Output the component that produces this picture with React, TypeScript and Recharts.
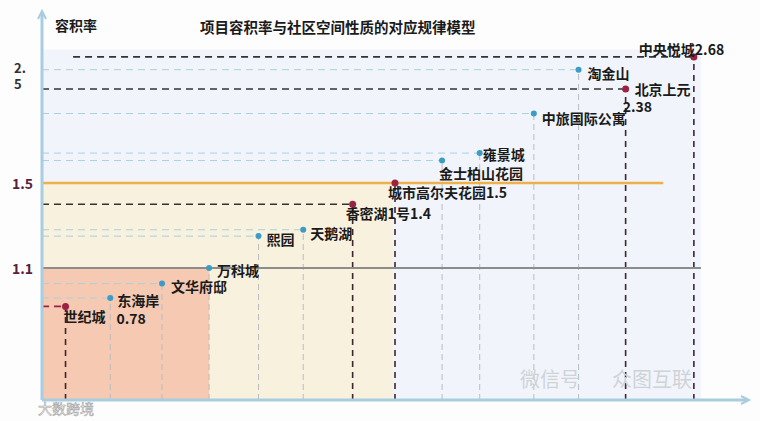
import React from "react";
import {
  ComposedChart,
  Scatter,
  XAxis,
  YAxis,
  ReferenceArea,
  ReferenceLine,
  ReferenceDot,
} from "recharts";

// projects in the order they sit along the horizontal axis
const projects = [
  "世纪城",
  "东海岸",
  "文华府邸",
  "万科城",
  "熙园",
  "天鹅湖",
  "香密湖1号",
  "城市高尔夫花园",
  "金士柏山花园",
  "雍景城",
  "中旅国际公寓",
  "淘金山",
  "北京上元",
  "中央悦城",
];
const slots = [0.5, 1.45, 2.55, 3.55, 4.6, 5.55, 6.6, 7.5, 8.5, 9.3, 10.45, 11.4, 12.4, 13.85];
const plotRatio = [0.78, 0.85, 0.97, 1.1, 1.25, 1.28, 1.4, 1.5, 1.71, 1.78, 2.15, 2.56, 2.38, 2.68];
const marked = [true, false, false, false, false, false, true, true, false, false, false, false, true, true];

const yTicks = [1.1, 1.5, 2.5];
const lowBand = 1.1;
const midBand = 1.5;
const yTop = 3.1;
const xMax = 15;

// the picture's vertical axis is stretched between 1.1 and 1.5
const KNOTS = [0, 1.1, 1.5, 3.1];
const FRACS = [0, 0.3402, 0.5593, 1];

function frac(v: number) {
  let i = 0;
  while (i < KNOTS.length - 2 && v > KNOTS[i + 1]) i++;
  const t = (v - KNOTS[i]) / (KNOTS[i + 1] - KNOTS[i]);
  return FRACS[i] + t * (FRACS[i + 1] - FRACS[i]);
}

function unfrac(f: number) {
  let i = 0;
  while (i < FRACS.length - 2 && f > FRACS[i + 1]) i++;
  const t = (f - FRACS[i]) / (FRACS[i + 1] - FRACS[i]);
  return KNOTS[i] + t * (KNOTS[i + 1] - KNOTS[i]);
}

function stretchScale(d: number[] = [0, 1], r: number[] = [0, 1]): any {
  let dom = d.slice();
  let rng = r.slice();
  const s: any = (v: number) => rng[0] + (rng[1] - rng[0]) * frac(v);
  s.domain = function (x?: number[]) {
    if (x === undefined) return dom.slice();
    dom = x.slice();
    return s;
  };
  s.range = function (x?: number[]) {
    if (x === undefined) return rng.slice();
    rng = x.slice();
    return s;
  };
  s.invert = (px: number) => unfrac((px - rng[0]) / (rng[1] - rng[0]));
  s.ticks = () => KNOTS.slice();
  s.tickFormat = () => (v: number) => String(v);
  s.nice = () => s;
  s.clamp = () => s;
  s.copy = () => stretchScale(dom, rng);
  return s;
}

const data = projects.map((name, i) => ({
  name,
  x: slots[i],
  y: plotRatio[i],
  marked: marked[i],
}));
const bluePts = data.filter((d) => !d.marked);
const redPts = data.filter((d) => d.marked);

// label placement relative to each dot
const labelPos: Record<string, { dx: number; dy: number; vdx?: number; vdy?: number }> = {
  世纪城: { dx: -2, dy: 10, vdx: 51, vdy: 12 },
  东海岸: { dx: 7, dy: 2 },
  文华府邸: { dx: 9, dy: 2 },
  万科城: { dx: 8, dy: 2 },
  熙园: { dx: 8, dy: 3 },
  天鹅湖: { dx: 7, dy: 3 },
  香密湖1号: { dx: -7, dy: 9 },
  城市高尔夫花园: { dx: -7, dy: 9 },
  金士柏山花园: { dx: -3, dy: 12 },
  雍景城: { dx: 3, dy: 1 },
  中旅国际公寓: { dx: 8, dy: 4 },
  淘金山: { dx: 9, dy: 3 },
  北京上元: { dx: 9, dy: 0, vdx: -3, vdy: 17 },
  中央悦城: { dx: -55, dy: -8 },
};

const FONT = '"Noto Sans CJK SC", "Noto Sans", sans-serif';
const AXIS = "#a9cde0";
const BLUE = "#3b9cc6";
const RED = "#9c2244";

function PointMark({ cx, cy, payload, fill }: any) {
  const p = labelPos[payload.name] || { dx: 8, dy: 2 };
  const txt = { fontFamily: FONT, fontSize: 14, fontWeight: 700, fill: "#1a1a1a" };
  const split = payload.marked && p.vdx !== undefined;
  return (
    <g>
      <circle cx={cx} cy={cy} r={payload.marked ? 3.5 : 3} fill={fill} />
      <text x={cx + p.dx} y={cy + p.dy} dominantBaseline="central" {...txt}>
        {payload.name}
        {payload.marked && !split ? payload.y : ""}
      </text>
      {split && (
        <text x={cx + p.vdx!} y={cy + p.vdy!} dominantBaseline="central" {...txt}>
          {payload.y}
        </text>
      )}
    </g>
  );
}

function YTick({ y, payload }: any) {
  const v = payload.value;
  const style = { fontFamily: FONT, fontSize: 14, fontWeight: 700 };
  if (v === 2.5) {
    return (
      <text x={14} y={y} fill="#333" {...style} fontSize={13}>
        <tspan x={14} dy={-3}>2.</tspan>
        <tspan x={14} dy={16}>5</tspan>
      </text>
    );
  }
  return (
    <text x={33} y={y} textAnchor="end" dominantBaseline="central" fill="#5c1f3c" {...style}>
      {v}
    </text>
  );
}

function UpArrow({ cx, cy }: any) {
  return (
    <polyline
      points={`${cx - 4},${cy + 7} ${cx},${cy - 1} ${cx + 4},${cy + 7}`}
      fill="none"
      stroke={AXIS}
      strokeWidth={2}
    />
  );
}

function RightArrow({ cx, cy }: any) {
  return (
    <polyline
      points={`${cx - 7},${cy - 4} ${cx + 1},${cy} ${cx - 7},${cy + 4}`}
      fill="none"
      stroke={AXIS}
      strokeWidth={2}
    />
  );
}

export default function App() {
  const yScale = stretchScale();
  return (
    <div style={{ position: "absolute", left: 0, top: 0, width: 760, height: 421, background: "#fdfdfe" }}>
      <ComposedChart
        width={760}
        height={421}
        data={data}
        margin={{ top: 12, right: 12, bottom: 0, left: 8 }}
      >
        <XAxis
          type="number"
          dataKey="x"
          domain={[0, xMax]}
          tick={false}
          tickLine={false}
          height={21}
          axisLine={{ stroke: AXIS, strokeWidth: 3 }}
        />
        <YAxis
          type="number"
          dataKey="y"
          domain={[0, yTop]}
          scale={yScale}
          ticks={yTicks}
          tick={<YTick />}
          tickLine={false}
          width={34}
          axisLine={{ stroke: AXIS, strokeWidth: 3 }}
        />

        <ReferenceArea x1={0} x2={14} y1={0} y2={2.75} fill="#f1f5fb" fillOpacity={1} stroke="none" ifOverflow="visible" />
        <ReferenceArea x1={0} x2={7.45} y1={0} y2={midBand} fill="#f8f1dd" fillOpacity={1} stroke="none" ifOverflow="visible" />
        <ReferenceArea x1={0} x2={3.55} y1={0} y2={lowBand} fill="#f5c9b2" fillOpacity={1} stroke="none" ifOverflow="visible" />

        {data.map((d) => (
          <ReferenceLine
            key={"v" + d.name}
            segment={[{ x: d.x, y: 0 }, { x: d.x, y: d.y }]}
            stroke={d.marked ? "#3d2630" : "#b9bcc0"}
            strokeWidth={d.marked ? 1.6 : 1}
            strokeDasharray={d.marked ? "6 5" : "6 4"}
            ifOverflow="visible"
          />
        ))}
        {data.map((d) => (
          <ReferenceLine
            key={"h" + d.name}
            segment={[{ x: d.name === "中央悦城" ? 0.66 : 0, y: d.y }, { x: d.x, y: d.y }]}
            stroke={d.marked ? (d.name === "世纪城" ? RED : "#333") : "#a9cfe0"}
            strokeWidth={d.marked ? 1.6 : 1}
            strokeDasharray="7 5"
            ifOverflow="visible"
          />
        ))}

        <ReferenceLine segment={[{ x: 0, y: midBand }, { x: 13.2, y: midBand }]} stroke="#efb04a" strokeWidth={2.5} ifOverflow="visible" />
        <ReferenceLine segment={[{ x: 0, y: lowBand }, { x: 14, y: lowBand }]} stroke="#8c8c8c" strokeWidth={2} ifOverflow="visible" />

        <ReferenceDot x={0} y={yTop} shape={<UpArrow />} ifOverflow="visible" />
        <ReferenceDot x={xMax} y={0} shape={<RightArrow />} ifOverflow="visible" />

        <Scatter data={bluePts} dataKey="y" fill={BLUE} shape={<PointMark fill={BLUE} />} isAnimationActive={false} />
        <Scatter data={redPts} dataKey="y" fill={RED} shape={<PointMark fill={RED} />} isAnimationActive={false} />
      </ComposedChart>

      <div style={{ position: "absolute", left: 55, top: 15, fontFamily: FONT, fontSize: 14, fontWeight: 700, color: "#1a1a1a", lineHeight: "20px" }}>
        容积率
      </div>
      <div style={{ position: "absolute", left: 200, top: 17, fontFamily: FONT, fontSize: 14.5, fontWeight: 700, color: "#1a1a1a", lineHeight: "20px", whiteSpace: "nowrap" }}>
        项目容积率与社区空间性质的对应规律模型
      </div>
      <div style={{ position: "absolute", left: 520, top: 364, fontFamily: FONT, fontSize: 20, color: "#cfd3d7", whiteSpace: "nowrap" }}>
        微信号
      </div>
      <div style={{ position: "absolute", left: 612, top: 364, fontFamily: FONT, fontSize: 20, color: "#cfd3d7", whiteSpace: "nowrap" }}>
        众图互联
      </div>
      <div style={{ position: "absolute", left: 38, top: 398, fontFamily: FONT, fontSize: 14, color: "#ffffff", WebkitTextStroke: "0.6px #a8a8a8", whiteSpace: "nowrap" }}>
        大数跨境
      </div>
    </div>
  );
}
